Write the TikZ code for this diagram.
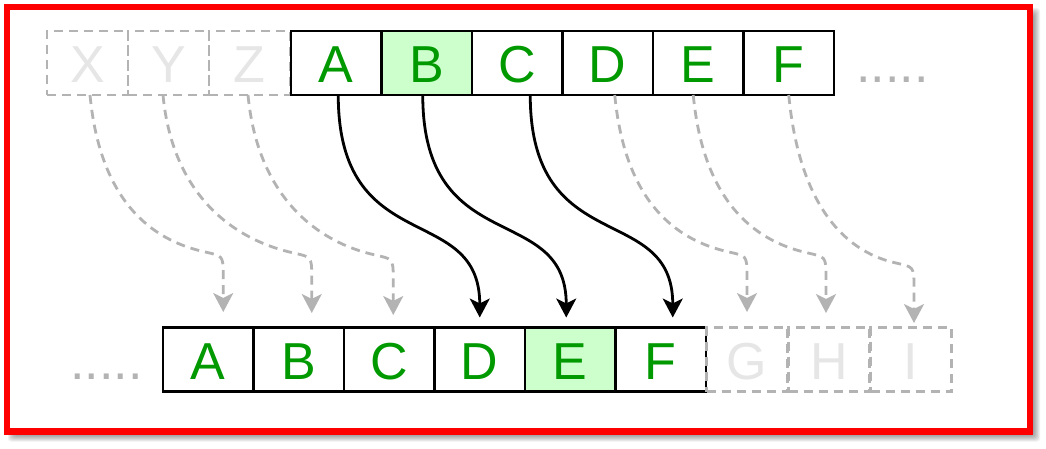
\documentclass[tikz,border=0pt]{standalone}
\usepackage{fontspec}
\setmainfont{Liberation Sans}
\usetikzlibrary{arrows.meta,calc}

\definecolor{cellgreen}{RGB}{0,153,0}
\definecolor{hifill}{RGB}{204,255,204}
\definecolor{ghostline}{RGB}{179,179,179}
\definecolor{ghosttext}{RGB}{230,230,230}

\tikzset{
  letters/.style={font=\fontsize{52}{52}\selectfont, text height=40pt, text depth=0pt,
    minimum height=64pt, inner sep=0pt, outer sep=0pt},
  cell/.style={letters, draw=black, line width=2.6pt, minimum width=90.5pt, text=cellgreen, fill=white},
  hicell/.style={cell, fill=hifill},
  ghost/.style={letters, draw=ghostline, line width=2.8pt, dash pattern=on 9pt off 6pt,
    minimum width=81pt, text=ghosttext},
  dots/.style={font=\fontsize{52}{52}\selectfont, text=ghostline, inner sep=0pt, anchor=base west},
  movearrow/.style={line width=2.8pt, -{Stealth[length=19pt,width=20pt,inset=5pt]}},
  ghostarrow/.style={movearrow, draw=ghostline, dash pattern=on 9pt off 6pt},
}

\begin{document}
\begin{tikzpicture}[x=1pt,y=-1pt]
  \fill[white] (0,0) rectangle (1046,449);
  \useasboundingbox (0,0) rectangle (1046,449);
  % soft shadow of the frame
  \foreach \e in {5,4,...,-2}
    \fill[black, opacity=0.06, rounded corners=3pt] ({13-\e},{13-\e}) rectangle ({1035+\e},{436.5+\e});
  \draw[red, line width=6.5pt, fill=white] (7,7) rectangle (1030,431.5);

  % top row
  \foreach \l [count=\i from 0] in {X,Y,Z}
    \node[ghost] (t\l) at ({87.5+81*\i},63) {\l};
  \foreach \l/\s [count=\i from 0] in {A/cell,B/hicell,C/cell,D/cell,E/cell,F/cell}
    \node[\s] (t\l) at ({336.25+90.5*\i},63) {\l};
  \node[dots] (topdots) at (856,83) {.....};

  % bottom row
  \foreach \l/\s [count=\i from 0] in {A/cell,B/cell,C/cell,D/cell,E/hicell,F/cell}
    \node[\s] (b\l) at ({208.25+90.5*\i},359.5) {\l};
  \foreach \l [count=\i from 0] in {G,H,I}
    \node[ghost] (b\l) at ({747+82*\i},359.5) {\l};
  \node[dots] (botdots) at (70,379) {.....};

  % shifted cells
  \foreach \src/\dst/\sx/\tx in {tA/bD/2/0, tB/bE/-4/-4, tC/bF/13/12}
    \draw[movearrow] ([shift={(\sx,0)}]\src.south) .. controls +(0,165) and +(0,-117)
      .. ([shift={(\tx,-10)}]\dst.north);

  \foreach \src/\dst/\sx/\tx/\ty in {tX/bA/2.5/15/-15.5, tY/bB/-5.5/13/-14.5, tZ/bC/-1.5/4/-12.5,
      tD/bG/7/0/-15.5, tE/bH/-5/-3/-14.5, tF/bI/0/3/-4.5}{
    \coordinate (tip) at ([shift={(\tx,\ty)}]\dst.north);
    \draw[ghostarrow] ([shift={(\sx,0)}]\src.south) .. controls +(10,105) and +(-55,-12)
      .. ($(tip)+(-18,-60)$) .. controls +(17,4) and +(0,-20) .. ($(tip)+(0,-37)$) -- (tip);
  }
\end{tikzpicture}
\end{document}
